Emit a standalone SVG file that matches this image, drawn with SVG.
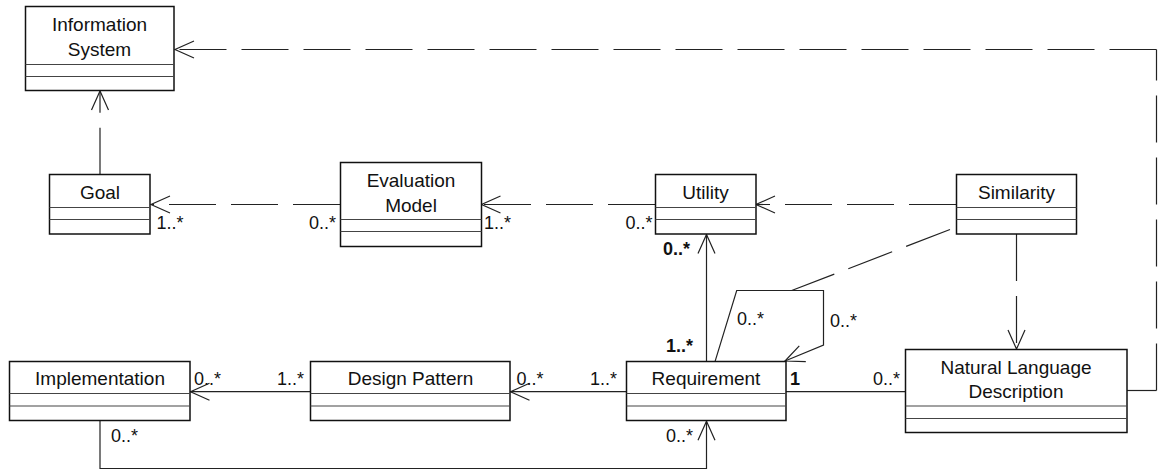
<svg xmlns="http://www.w3.org/2000/svg" width="1159" height="471" viewBox="0 0 1159 471">
  <style>
    .box { fill: #fff; stroke: #111; stroke-width: 1.5; }
    .div { stroke: #444; stroke-width: 1.2; fill: none; }
    .name { font-family: "Liberation Sans", Arial, sans-serif; font-size: 19px; fill: #111; text-anchor: middle; }
    .mult { font-family: "Liberation Sans", Arial, sans-serif; font-size: 18px; fill: #111; }
    .b { font-weight: bold; }
    .end { text-anchor: end; }
    .line { fill: none; stroke: #222; stroke-width: 1.2; }
    .dash { stroke-dasharray: 47 15; }
  </style>
  <defs>
    <marker id="open" markerUnits="userSpaceOnUse" viewBox="-21 -10 23 20" refX="0" refY="0" markerWidth="23" markerHeight="20" orient="auto">
      <path d="M-19,-8.5 L0,0 L-19,8.5" fill="none" stroke="#222" stroke-width="1.2"/>
    </marker>
  </defs>

  <rect width="1159" height="471" fill="#fff"/>

  <!-- associations and dependencies -->
  <g id="connectors">
    <path class="line dash" d="M100,174.7 V91" marker-end="url(#open)"/>
    <path class="line" d="M1127,390.5 H1156.5"/>
    <path class="line dash" d="M1156.5,390.5 V49.5"/>
    <path class="line dash" d="M1156.5,49.5 H175" marker-end="url(#open)"/>
    <path class="line dash" d="M340,204.5 H151" marker-end="url(#open)"/>
    <path class="line dash" d="M655,204.5 H481.5" marker-end="url(#open)"/>
    <path class="line dash" d="M956,204.5 H756" marker-end="url(#open)"/>
    <path class="line dash" d="M1016.5,234 V349" marker-end="url(#open)"/>
    <path class="line dash" d="M950,229.5 L791.7,290.5"/>
    <path class="line" d="M706.5,361.7 V234.5" marker-end="url(#open)"/>
    <path class="line" d="M715,361.7 L736.7,290.5 H823.5 V345 L785,361" marker-end="url(#open)"/>
    <path class="line" d="M626,391.7 H510.5" marker-end="url(#open)"/>
    <path class="line" d="M310.7,391.7 H190.5" marker-end="url(#open)"/>
    <path class="line" d="M100,420.7 V468.5 H706.5 V421.2" marker-end="url(#open)"/>
    <path class="line" d="M786,391.7 H905"/>
  </g>

  <!-- multiplicities -->
  <g id="multiplicities">
    <text class="mult" x="156.5" y="228.5">1..*</text>
    <text class="mult end" x="336" y="228.5">0..*</text>
    <text class="mult" x="484" y="228.5">1..*</text>
    <text class="mult end" x="652.5" y="228.5">0..*</text>
    <text class="mult b" x="663" y="255">0..*</text>
    <text class="mult b" x="666" y="352">1..*</text>
    <text class="mult" x="737" y="324.5">0..*</text>
    <text class="mult" x="830" y="326.5">0..*</text>
    <text class="mult b" x="790" y="384.5">1</text>
    <text class="mult end" x="900" y="384.5">0..*</text>
    <text class="mult" x="194" y="385">0..*</text>
    <text class="mult end" x="304" y="385">1..*</text>
    <text class="mult" x="516.5" y="385">0..*</text>
    <text class="mult end" x="617" y="385">1..*</text>
    <text class="mult" x="111" y="441.5">0..*</text>
    <text class="mult end" x="693" y="441.5">0..*</text>
  </g>

  <g id="information-system">
    <rect class="box" x="25.5" y="6.5" width="148.5" height="84"/>
    <path class="div" d="M25.5,64.5 H174 M25.5,76.5 H174"/>
    <text class="name" x="99.5" y="30.5">Information</text>
    <text class="name" x="99.5" y="55.5">System</text>
  </g>

  <g id="goal">
    <rect class="box" x="49.5" y="174.5" width="100.5" height="59.5"/>
    <path class="div" d="M49.5,207.5 H150 M49.5,219.5 H150"/>
    <text class="name" x="100" y="199">Goal</text>
  </g>

  <g id="evaluation-model">
    <rect class="box" x="340.5" y="162.5" width="141" height="84"/>
    <path class="div" d="M340.5,219.5 H481.5 M340.5,231.5 H481.5"/>
    <text class="name" x="411" y="187">Evaluation</text>
    <text class="name" x="411" y="211.5">Model</text>
  </g>

  <g id="utility">
    <rect class="box" x="655.5" y="174.5" width="100.5" height="59.5"/>
    <path class="div" d="M655.5,207.5 H756 M655.5,219.5 H756"/>
    <text class="name" x="705.5" y="199">Utility</text>
  </g>

  <g id="similarity">
    <rect class="box" x="956.5" y="174.5" width="120" height="59.5"/>
    <path class="div" d="M956.5,207.5 H1076.5 M956.5,219.5 H1076.5"/>
    <text class="name" x="1016.5" y="199">Similarity</text>
  </g>

  <g id="implementation">
    <rect class="box" x="9.5" y="361.5" width="180.5" height="59"/>
    <path class="div" d="M9.5,393.5 H190 M9.5,406 H190"/>
    <text class="name" x="100" y="385">Implementation</text>
  </g>

  <g id="design-pattern">
    <rect class="box" x="310.5" y="361.5" width="199.5" height="59"/>
    <path class="div" d="M310.5,393.5 H510 M310.5,406 H510"/>
    <text class="name" x="410.5" y="385">Design Pattern</text>
  </g>

  <g id="requirement">
    <rect class="box" x="626.5" y="361.5" width="159.5" height="59"/>
    <path class="div" d="M626.5,393.5 H786 M626.5,406 H786"/>
    <text class="name" x="706" y="385">Requirement</text>
  </g>

  <g id="natural-language-description">
    <rect class="box" x="905.5" y="349.5" width="221.5" height="83"/>
    <path class="div" d="M905.5,406 H1127 M905.5,418.5 H1127"/>
    <text class="name" x="1016" y="373.5">Natural Language</text>
    <text class="name" x="1016" y="397.5">Description</text>
  </g>
</svg>
